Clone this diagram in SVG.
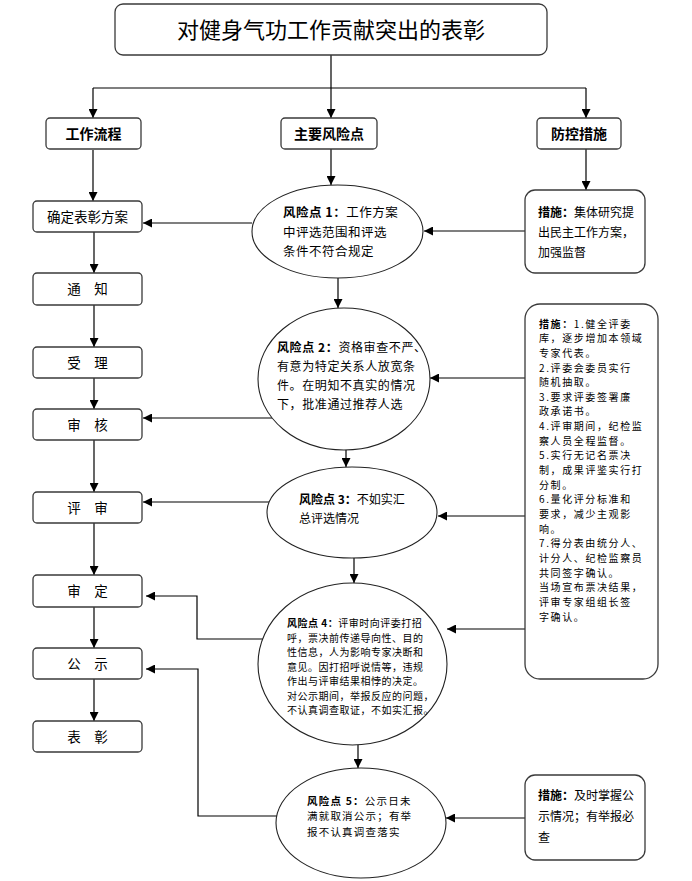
<svg xmlns="http://www.w3.org/2000/svg" width="692" height="881" viewBox="0 0 692 881">
<defs>
<marker id="arr" markerUnits="userSpaceOnUse" markerWidth="9" markerHeight="9" viewBox="0 0 10 10" refX="10" refY="5" orient="auto">
<path d="M0,0 L10,5 L0,10 z" fill="#000"/>
</marker>
<style>
.box{fill:#fff;stroke:#3a3a3a;stroke-width:1.3}
.ell{fill:#fff;stroke:#222;stroke-width:1.1}
.ln{fill:none;stroke:#000;stroke-width:1.2}
.arr{fill:none;stroke:#000;stroke-width:1.2;marker-end:url(#arr)}
text{font-family:"Noto Sans CJK SC","Noto Sans",sans-serif;fill:#000}
.t{font-size:22px}
.h{font-size:14px;font-weight:bold;text-anchor:middle}
.c{font-size:13.5px;text-anchor:middle}
.e1{font-size:12.5px;letter-spacing:0.5px}
.e2{font-size:12px;letter-spacing:0.6px}
.e3{font-size:12px}
.e4{font-size:10px;letter-spacing:0.5px}
.e5{font-size:10.5px;letter-spacing:1.2px}
.mm{font-size:12px}
.mb{font-size:10px;letter-spacing:1.6px}
.b{font-weight:bold}
</style>
</defs>
<rect width="692" height="881" fill="#fff"/>

<g id="connectors">
<path class="ln" d="M331,55 V88 M93,88 H586"/>
<path class="arr" d="M93,88 V118"/>
<path class="arr" d="M331,88 V118"/>
<path class="arr" d="M586,88 V118"/>
<path class="arr" d="M93,150 V201"/>
<path class="arr" d="M331,148 V185"/>
<path class="arr" d="M586,148 V190"/>
<path class="arr" d="M94,232 V273"/>
<path class="arr" d="M94,305 V347"/>
<path class="arr" d="M94,378 V409"/>
<path class="arr" d="M94,440 V492"/>
<path class="arr" d="M94,523 V575"/>
<path class="arr" d="M94,607 V648"/>
<path class="arr" d="M94,679 V721"/>
<path class="arr" d="M252,223 H143"/>
<path class="arr" d="M525,231 H424"/>
<path class="arr" d="M338,278 V308"/>
<path class="arr" d="M525,378 H430"/>
<path class="arr" d="M272,418 H143"/>
<path class="arr" d="M346,450 V467"/>
<path class="arr" d="M525,516 H438"/>
<path class="arr" d="M269,502 H143"/>
<path class="arr" d="M354,558 V583"/>
<path class="arr" d="M525,629 H447"/>
<path class="arr" d="M263,639 H197 V596 H146"/>
<path class="arr" d="M358,745 V768"/>
<path class="arr" d="M525,818 H446"/>
<path class="arr" d="M277,816 H198 V669 H146"/>
</g>

<g id="title">
<rect class="box" x="115" y="4" width="432" height="51" rx="8"/>
<text class="t" x="331" y="38" text-anchor="middle">对健身气功工作贡献突出的表彰</text>
</g>

<g id="h-flow">
<rect class="box" x="46" y="118" width="95" height="31" rx="4"/>
<text class="h" x="93.5" y="138.5">工作流程</text>
</g>
<g id="h-risk">
<rect class="box" x="281" y="118" width="96" height="31" rx="4"/>
<text class="h" x="329" y="138.5">主要风险点</text>
</g>
<g id="h-ctrl">
<rect class="box" x="537" y="118" width="84" height="31" rx="4"/>
<text class="h" x="579" y="138.5">防控措施</text>
</g>

<g id="s1"><rect class="box" x="33" y="201" width="109" height="31" rx="4"/><text class="c" x="87.5" y="221.5">确定表彰方案</text></g>
<g id="s2"><rect class="box" x="33" y="273" width="109" height="32" rx="4"/><text class="c" x="87.5" y="294">通　知</text></g>
<g id="s3"><rect class="box" x="33" y="347" width="109" height="31" rx="4"/><text class="c" x="87.5" y="367.5">受　理</text></g>
<g id="s4"><rect class="box" x="33" y="409" width="109" height="31" rx="4"/><text class="c" x="87.5" y="429.5">审　核</text></g>
<g id="s5"><rect class="box" x="33" y="492" width="109" height="31" rx="4"/><text class="c" x="87.5" y="512.5">评　审</text></g>
<g id="s6"><rect class="box" x="33" y="575" width="109" height="32" rx="4"/><text class="c" x="87.5" y="596">审　定</text></g>
<g id="s7"><rect class="box" x="33" y="648" width="109" height="31" rx="4"/><text class="c" x="87.5" y="668.5">公　示</text></g>
<g id="s8"><rect class="box" x="33" y="721" width="109" height="31" rx="4"/><text class="c" x="87.5" y="741.5">表　彰</text></g>

<g id="r1">
<ellipse class="ell" cx="337.5" cy="231.5" rx="85.5" ry="46.5"/>
<text class="e1"><tspan x="283" y="217"><tspan class="b">风险点 1：</tspan>工作方案</tspan><tspan x="283" y="236.5">中评选范围和评选</tspan><tspan x="283" y="255.5">条件不符合规定</tspan></text>
</g>
<g id="r2">
<ellipse class="ell" cx="344" cy="379" rx="86" ry="71"/>
<text class="e2"><tspan x="277" y="352"><tspan class="b">风险点 2：</tspan>资格审查不严、</tspan><tspan x="277" y="371">有意为特定关系人放宽条</tspan><tspan x="277" y="390">件。在明知不真实的情况</tspan><tspan x="277" y="409">下，批准通过推荐人选</tspan></text>
</g>
<g id="r3">
<ellipse class="ell" cx="352" cy="512.5" rx="85" ry="45.5"/>
<text class="e3"><tspan x="299" y="503.5"><tspan class="b">风险点 3：</tspan>不如实汇</tspan><tspan x="299" y="522.5">总评选情况</tspan></text>
</g>
<g id="r4">
<ellipse class="ell" cx="352.5" cy="664" rx="94.5" ry="81"/>
<text class="e4"><tspan x="287" y="627"><tspan class="b">风险点 4：</tspan>评审时向评委打招</tspan><tspan x="287" y="641.5">呼，票决前传递导向性、目的</tspan><tspan x="287" y="656">性信息，人为影响专家决断和</tspan><tspan x="287" y="670.5">意见。因打招呼说情等，违规</tspan><tspan x="287" y="685">作出与评审结果相悖的决定。</tspan><tspan x="287" y="699.5">对公示期间，举报反应的问题，</tspan><tspan x="287" y="714">不认真调查取证，不如实汇报。</tspan></text>
</g>
<g id="r5">
<ellipse class="ell" cx="361" cy="823" rx="85" ry="55"/>
<text class="e5"><tspan x="307" y="804.5"><tspan class="b">风险点 5：</tspan>公示日未</tspan><tspan x="307" y="820">满就取消公示；有举</tspan><tspan x="307" y="835.5">报不认真调查落实</tspan></text>
</g>

<g id="m1">
<rect class="box" x="525" y="190" width="120" height="83" rx="10"/>
<text class="mm"><tspan x="538" y="216.5"><tspan class="b">措施：</tspan>集体研究提</tspan><tspan x="538" y="236.5">出民主工作方案，</tspan><tspan x="538" y="256.5">加强监督</tspan></text>
</g>
<g id="m2">
<rect class="box" x="525" y="304" width="133" height="375" rx="15"/>
<text class="mb"><tspan x="539" y="327.5"><tspan class="b">措施：</tspan>1.健全评委</tspan><tspan x="539" y="342.2">库，逐步增加本领域</tspan><tspan x="539" y="356.8">专家代表。</tspan><tspan x="539" y="371.5">2.评委会委员实行</tspan><tspan x="539" y="386.1">随机抽取。</tspan><tspan x="539" y="400.8">3.要求评委签署廉</tspan><tspan x="539" y="415.4">政承诺书。</tspan><tspan x="539" y="430.1">4.评审期间，纪检监</tspan><tspan x="539" y="444.7">察人员全程监督。</tspan><tspan x="539" y="459.4">5.实行无记名票决</tspan><tspan x="539" y="474">制，成果评鉴实行打</tspan><tspan x="539" y="488.7">分制。</tspan><tspan x="539" y="503.3">6.量化评分标准和</tspan><tspan x="539" y="518">要求，减少主观影</tspan><tspan x="539" y="532.6">响。</tspan><tspan x="539" y="547.3">7.得分表由统分人、</tspan><tspan x="539" y="561.9">计分人、纪检监察员</tspan><tspan x="539" y="576.6">共同签字确认。</tspan><tspan x="539" y="591.2">当场宣布票决结果，</tspan><tspan x="539" y="605.9">评审专家组组长签</tspan><tspan x="539" y="620.5">字确认。</tspan></text>
</g>
<g id="m3">
<rect class="box" x="525" y="775" width="120" height="85" rx="10"/>
<text class="mm"><tspan x="538" y="799.5"><tspan class="b">措施：</tspan>及时掌握公</tspan><tspan x="538" y="820.5">示情况；有举报必</tspan><tspan x="538" y="841.5">查</tspan></text>
</g>
</svg>
